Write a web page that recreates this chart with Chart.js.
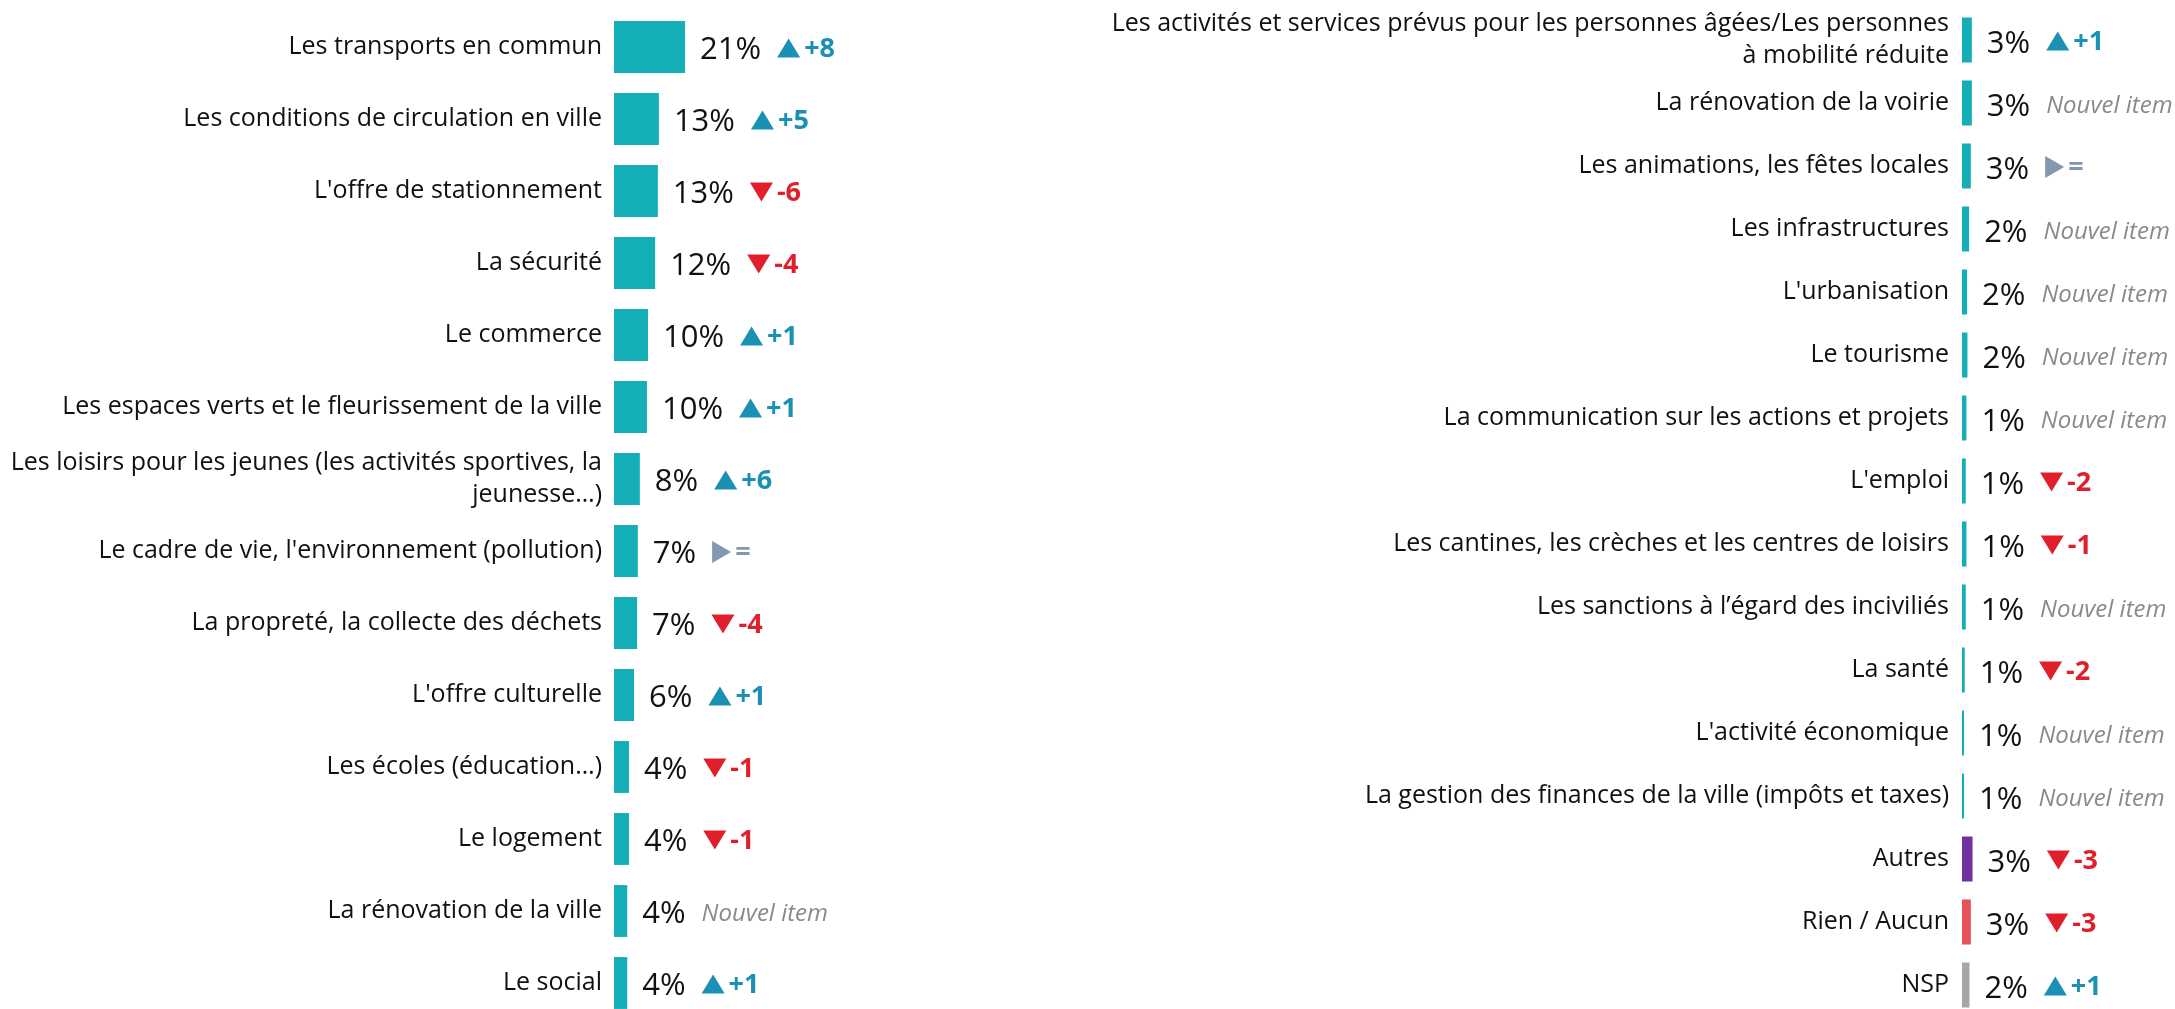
<!DOCTYPE html>
<html>
<head>
<meta charset="utf-8">
<script src="https://cdn.jsdelivr.net/npm/chart.js@4/dist/chart.umd.min.js"></script>
<style>
  html, body { margin: 0; padding: 0; background: #fff; overflow: hidden; width: 2175px; height: 1009px; }
  .box { position: absolute; top: 0; }
</style>
</head>
<body>
<div class="box" style="left:0;width:1100px;height:1040px"><canvas id="left"></canvas></div>
<div class="box" style="left:1100px;width:1075px;height:1030px"><canvas id="right"></canvas></div>
<script>
// left column
const leftLabels = [
  "Les transports en commun",
  "Les conditions de circulation en ville",
  "L'offre de stationnement",
  "La sécurité",
  "Le commerce",
  "Les espaces verts et le fleurissement de la ville",
  ["Les loisirs pour les jeunes (les activités sportives, la", "jeunesse…)"],
  "Le cadre de vie, l'environnement (pollution)",
  "La propreté, la collecte des déchets",
  "L'offre culturelle",
  "Les écoles (éducation…)",
  "Le logement",
  "La rénovation de la ville",
  "Le social"
];
const leftValues = [20.9, 13.2, 12.9, 12.1, 10.0, 9.7, 7.6, 7.0, 6.8, 5.9, 4.4, 4.4, 3.9, 3.9];
const leftDeltas = ["+8", "+5", "-6", "-4", "+1", "+1", "+6", "=", "-4", "+1", "-1", "-1", "new", "+1"];

// right column
const rightLabels = [
  ["Les activités et services prévus pour les personnes âgées/Les personnes", "à mobilité réduite"],
  "La rénovation de la voirie",
  "Les animations, les fêtes locales",
  "Les infrastructures",
  "L'urbanisation",
  "Le tourisme",
  "La communication sur les actions et projets",
  "L'emploi",
  "Les cantines, les crèches et les centres de loisirs",
  "Les sanctions à l’égard des inciviliés",
  "La santé",
  "L'activité économique",
  "La gestion des finances de la ville (impôts et taxes)",
  "Autres",
  "Rien / Aucun",
  "NSP"
];
const rightValues = [2.9, 2.9, 2.6, 2.1, 1.5, 1.6, 1.3, 1.1, 1.3, 1.1, 0.8, 0.6, 0.6, 3.1, 2.6, 2.2];
const rightDeltas = ["+1", "new", "=", "new", "new", "new", "new", "-2", "-1", "new", "-2", "new", "new", "-3", "-3", "+1"];

const TEAL = "#13aeb6";
const UP = "#1a90b2";
const DOWN = "#e01f2b";
const SAME = "#8497b0";
const FONT = "'Open Sans', sans-serif";

// draws "21%" and the evolution marker after each bar
const annotPlugin = {
  id: 'annot',
  afterDatasetsDraw(chart, args, opts) {
    const ctx = chart.ctx;
    const vals = chart.data.datasets[0].data;
    ctx.save();
    chart.getDatasetMeta(0).data.forEach((bar, i) => {
      const txt = Math.round(vals[i]) + '%';
      ctx.font = "31px " + FONT;
      ctx.fillStyle = '#111';
      ctx.textAlign = 'left';
      ctx.textBaseline = 'middle';
      const x0 = bar.x + 15;
      ctx.fillText(txt, x0, bar.y + opts.valueDy);
      let x = x0 + ctx.measureText(txt).width + opts.deltaGap;
      const y = bar.y + opts.deltaDy;
      const d = opts.deltas[i];
      if (d === 'new') {
        ctx.font = "italic 24px " + FONT;
        ctx.fillStyle = '#8a8a8a';
        ctx.fillText('Nouvel item', x, y + 2);
        return;
      }
      ctx.beginPath();
      let col;
      if (d === '=') {
        col = SAME;
        ctx.moveTo(x, y - 11); ctx.lineTo(x + 19, y); ctx.lineTo(x, y + 11);
      } else if (d[0] === '+') {
        col = UP;
        ctx.moveTo(x, y + 9.5); ctx.lineTo(x + 23, y + 9.5); ctx.lineTo(x + 11.5, y - 9.5);
      } else {
        col = DOWN;
        ctx.moveTo(x, y - 9.5); ctx.lineTo(x + 23, y - 9.5); ctx.lineTo(x + 11.5, y + 9.5);
      }
      ctx.closePath();
      ctx.fillStyle = col;
      ctx.fill();
      ctx.font = "bold 27px " + FONT;
      ctx.fillText(d, x + (d === '=' ? 23 : 27), y + 1);
    });
    ctx.restore();
  }
};

function makeChart(id, labels, values, deltas, colors, o) {
  return new Chart(document.getElementById(id), {
    type: 'bar',
    data: {
      labels: labels,
      datasets: [{
        data: values,
        backgroundColor: colors,
        barPercentage: o.barPct,
        categoryPercentage: 1
      }]
    },
    options: {
      indexAxis: 'y',
      responsive: true,
      maintainAspectRatio: false,
      animation: false,
      layout: { padding: o.padding },
      plugins: {
        legend: { display: false },
        tooltip: { enabled: false },
        annot: { deltas: deltas, valueDy: o.valueDy, deltaDy: o.deltaDy, deltaGap: o.deltaGap }
      },
      scales: {
        x: { display: false, min: 0, max: o.max },
        y: {
          grid: { display: false, drawTicks: false },
          border: { display: false },
          ticks: {
            autoSkip: false,
            padding: o.tickPad,
            color: '#111',
            font: { family: FONT, size: 25, lineHeight: 1.3 }
          },
          afterFit(scale) {
            scale.width = o.axisWidth;
            // rows must fill the whole plot height, no room kept for label overflow
            scale.paddingTop = 0;
            scale.paddingBottom = 0;
          }
        }
      }
    },
    plugins: [annotPlugin]
  });
}

makeChart('left', leftLabels, leftValues, leftDeltas, TEAL, {
  barPct: 0.72, max: 100, axisWidth: 614, tickPad: 12,
  padding: { top: 11, bottom: 21, left: 0, right: 146 },
  valueDy: 3, deltaDy: 1, deltaGap: 16
});

const rightColors = rightValues.map((v, i) => i < 13 ? TEAL : ["#7030a0", "#e8505b", "#a6a6a6"][i - 13]);
makeChart('right', rightLabels, rightValues, rightDeltas, rightColors, {
  barPct: 0.714, max: 50, axisWidth: 862, tickPad: 13,
  padding: { top: 8.5, bottom: 13.5, left: 0, right: 43 },
  valueDy: 4, deltaDy: 1, deltaGap: 16
});
</script>
</body>
</html>
